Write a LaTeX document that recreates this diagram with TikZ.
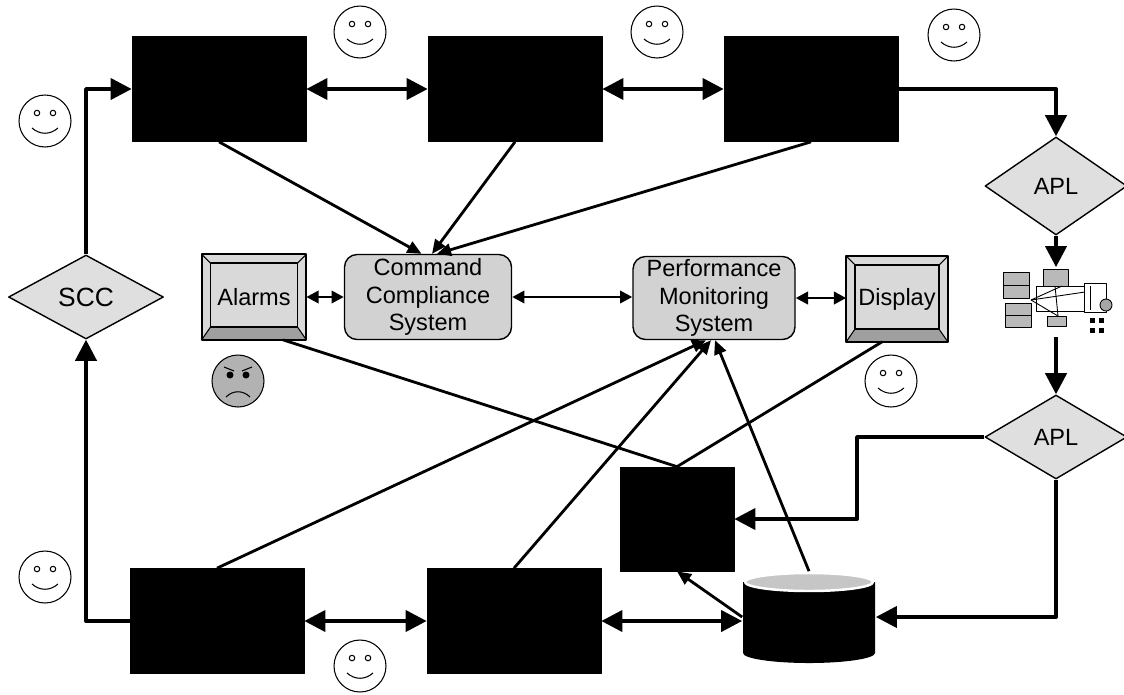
\documentclass[tikz,border=0pt]{standalone}
\usepackage{fontspec}
\setmainfont{Liberation Sans}
\usetikzlibrary{arrows.meta,shapes.geometric}

% faces, drawn around a given centre
\newcommand{\happy}[1]{%
  \begin{scope}[shift={#1},line width=0.6pt]
    \draw (0,0) circle (0.52cm);
    \draw (-8,-8) circle (0.055cm);
    \draw (8,-8) circle (0.055cm);
    \draw (-13,7) .. controls (-5,14) and (5,14) .. (13,7);
  \end{scope}}
\newcommand{\grumpy}[1]{%
  \begin{scope}[shift={#1},line width=0.6pt]
    \draw[fill=gray!60] (0,0) circle (0.52cm);
    \fill (-8,-6) circle (0.07cm);
    \fill (8,-6) circle (0.07cm);
    \draw (-14,-14) -- (-4,-10);
    \draw (14,-14) -- (4,-10);
    \draw (-12,16) .. controls (-5,9) and (5,9) .. (12,16);
  \end{scope}}
% frame of a bevelled button
\newcommand{\bevel}[1]{%
  \fill[gray!75] (#1.south west) -- ([shift={(9,-13)}]#1.south west)
    -- ([shift={(-9,-13)}]#1.south east) -- (#1.south east) -- cycle;
  \draw[line width=0.8pt] ([shift={(9,9)}]#1.north west) rectangle ([shift={(-9,-13)}]#1.south east);
  \draw[line width=0.6pt] (#1.north west) -- ++(9,9);
  \draw[line width=0.6pt] (#1.north east) -- ++(-9,9);
  \draw[line width=0.6pt] (#1.south west) -- ++(9,-13);
  \draw[line width=0.6pt] (#1.south east) -- ++(-9,-13);
  \draw[line width=1.2pt] (#1.south west) rectangle (#1.north east);}

\begin{document}
\begin{tikzpicture}[x=0.02cm,y=-0.02cm,line join=round,
  box/.style={draw,fill=black,inner sep=0pt,minimum width=3.48cm,minimum height=2.1cm},
  gate/.style={diamond,draw,line width=0.8pt,fill=gray!25,inner sep=0pt,
    font=\fontsize{13.4}{15.6}\selectfont},
  panel/.style={rectangle,rounded corners=0.25cm,draw,line width=0.8pt,fill=gray!35,
    inner sep=0pt,align=center,font=\fontsize{13.4}{15.6}\selectfont},
  screen/.style={rectangle,fill=gray!30,inner sep=0pt,
    font=\fontsize{13.4}{15.6}\selectfont},
  flow/.style={line width=2.2pt,-{Triangle[length=12pt,width=12pt]}},
  both/.style={line width=2.2pt,{Triangle[length=12pt,width=12pt]}-{Triangle[length=12pt,width=12pt]}},
  link/.style={line width=1.6pt,{Triangle[length=7pt,width=7pt]}-{Triangle[length=7pt,width=7pt]}},
  feed/.style={line width=1.6pt,-{Triangle[length=8pt,width=7pt]}},
  wire/.style={line width=1.6pt}]

    \useasboundingbox (0,0) rectangle (1124,694);

    % systems along the top and bottom
    \node[box] (sysA) at (219,89) {};
    \node[box] (sysB) at (515,89) {};
    \node[box] (sysC) at (811,89) {};
    \node[box] (ctrlA) at (217,621) {};
    \node[box] (ctrlB) at (514,621) {};
    \node[box,minimum width=2.28cm,minimum height=2.08cm] (log) at (677,519) {};

    % archive drum
    \node[inner sep=0pt,minimum width=2.66cm,minimum height=1.82cm] (arch) at (809,617) {};
    \fill (743,582) -- (743,653) arc[start angle=180,end angle=0,x radius=66,y radius=10] -- (875,582) -- cycle;
    \draw[fill=gray!45,draw=white,line width=1.4pt] (809,582) ellipse [x radius=64,y radius=9];

    % relays
    \node[gate,minimum width=3.1cm,minimum height=1.68cm,font=\fontsize{15}{17}\selectfont] (scc) at (86,297) {SCC};
    \node[gate,minimum width=2.84cm,minimum height=1.96cm] (aplup) at (1056,186) {APL};
    \node[gate,minimum width=2.84cm,minimum height=1.68cm] (apldown) at (1056,437) {APL};

    % monitoring row
    \node[screen,minimum width=2.08cm,minimum height=1.7cm] (alarms) at (254,297) {Alarms};
    \node[panel,minimum width=3.34cm,minimum height=1.7cm] (ccs) at (428,297) {Command\\Compliance\\System};
    \node[panel,minimum width=3.24cm,minimum height=1.66cm] (pms) at (714,298) {Performance\\Monitoring\\System};
    \node[screen,minimum width=2.02cm,minimum height=1.7cm] (display) at (897,299) {Display};
    \bevel{alarms}
    \bevel{display}

    % spacecraft
    \node[inner sep=0pt,minimum width=2.26cm,minimum height=1.38cm] (sat) at (1056,302) {};
    \begin{scope}[line width=0.5pt]
      \draw[fill=gray!55] (1003,272) rectangle (1029,298);
      \draw (1003,285) -- (1029,285);
      \draw[fill=gray!55] (1005,303) rectangle (1031,327);
      \draw (1005,315) -- (1031,315);
      \draw[fill=gray!55] (1043,269) rectangle (1068,286);
      \draw[fill=gray!55] (1047,316) rectangle (1066,326);
      \draw (1031,300) -- (1085,292);
      \draw (1031,300) -- (1062,286);
      \draw (1031,300) -- (1058,316);
      \draw (1055,286) -- (1058,316);
      \draw (1036,286) rectangle (1084,311);
      \draw (1084,283) rectangle (1106,312);
      \draw (1090,286) -- (1090,310);
      \draw[fill=gray!70] (1106,305) circle (0.12cm);
      \fill (1090,318) rectangle (1095,323);
      \fill (1099,318) rectangle (1104,323);
      \fill (1090,328) rectangle (1095,333);
      \fill (1099,328) rectangle (1104,333);
    \end{scope}

    % main loop
    \draw[flow] (scc.north) |- (sysA.west);
    \draw[flow] (ctrlA.west) -| (scc.south);
    \draw[both] (sysA) -- (sysB);
    \draw[both] (sysB) -- (sysC);
    \draw[flow] (sysC.east) -| (aplup.north);
    \draw[flow] (aplup.south) -- (sat.north);
    \draw[flow] (sat.south) -- (apldown.north);
    \coordinate (turn) at (857,437);
    \draw[flow] (apldown.west) -- (turn) |- (log.east);
    \draw[flow] (apldown.south) |- (arch.east);
    \draw[both] (ctrlA) -- (ctrlB);
    \draw[both] (ctrlB.east) -- (ctrlB.east -| arch.west);
    \draw[feed] (arch.west) -- (log.south);

    % monitoring links
    \draw[link] (alarms) -- (ccs);
    \draw[link] (ccs.east) -- (ccs.east -| pms.west);
    \draw[link] (pms.east) -- (pms.east -| display.west);
    \draw[feed] (sysA.south) -- ([xshift=-0.13cm]ccs.north);
    \draw[feed] (sysB.south) -- ([xshift=0.08cm]ccs.north);
    \draw[feed] (sysC.south) -- ([xshift=0.18cm]ccs.north);
    \draw[feed] (ctrlA.north) -- ([xshift=-0.16cm]pms.south);
    \draw[feed] (ctrlB.north) -- ([xshift=-0.06cm]pms.south);
    \draw[feed] (arch.north) -- ([xshift=0.02cm]pms.south);
    \draw[wire] ([xshift=0.58cm]alarms.south) -- (log.north);
    \draw[wire] ([xshift=-0.3cm]display.south) -- (log.north);

    \happy{(360,32)}
    \happy{(657,32)}
    \happy{(954,35)}
    \happy{(45,121)}
    \happy{(45,577)}
    \happy{(360,666)}
    \happy{(891,381)}
    \grumpy{(238,381)}
\end{tikzpicture}
\end{document}
